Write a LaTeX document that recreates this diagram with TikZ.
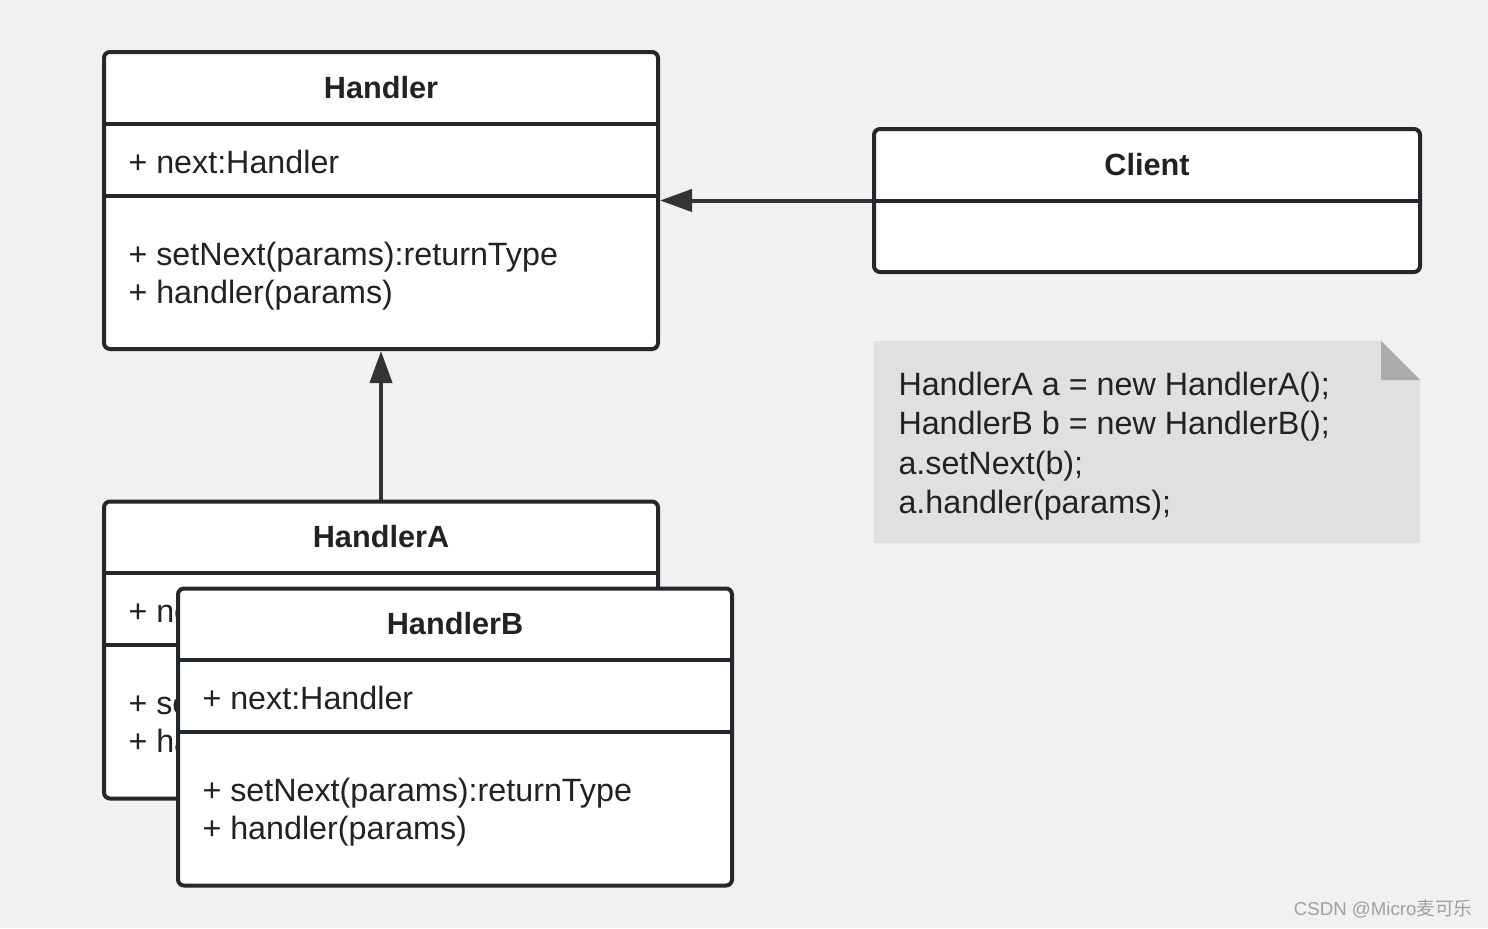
\documentclass[tikz,border=0pt]{standalone}
\usepackage{fontspec}
\setmainfont{Liberation Sans}
\newfontfamily\cjkfont{Noto Sans CJK SC}
\usetikzlibrary{arrows.meta}

\definecolor{bggray}{RGB}{241,241,241}
\definecolor{boxline}{RGB}{35,39,46}
\definecolor{textdark}{RGB}{34,34,34}
\definecolor{arrowgray}{RGB}{51,51,51}
\definecolor{notefill}{RGB}{224,224,224}
\definecolor{foldfill}{RGB}{170,170,170}
\definecolor{markgray}{RGB}{160,160,160}

\tikzset{every picture/.style={line width=0.75pt}}
\tikzset{
  classbox/.style={draw=boxline, fill=white, line width=3pt, rounded corners=4.5pt,
    inner sep=0pt, minimum width=415.5pt, minimum height=222.75pt},
  divider/.style={draw=boxline, line width=3pt},
  classtext/.style={text=textdark, inner sep=0pt, font=\fontsize{24.2}{28.5}\selectfont},
  classtitle/.style={text=textdark, inner sep=0pt, font=\fontsize{23}{28.5}\selectfont\bfseries},
  inherit/.style={draw=arrowgray, line width=3pt, -{Triangle[length=24pt,width=16.5pt]}}
}

\begin{document}
\begin{tikzpicture}[x=0.75pt,y=0.75pt,yscale=-1,xscale=1]
%set diagram to the size of the reference
\fill[bggray] (0,0) rectangle (1488,928);
\useasboundingbox (0,0) rectangle (1488,928);

%Shape: Class Handler
\node (handler) [classbox] at (381,200.5) {};
\draw [divider] (handler.west |- 0,124) -- (handler.east |- 0,124);
\draw [divider] (handler.west |- 0,196) -- (handler.east |- 0,196);
% Text Node
\node (handlerName) [classtitle] at (381,88) {Handler};
% Text Node
\node (handlerAttr) [classtext, anchor=west] at (128,162) {+ next:Handler};
% Text Node
\node (handlerOps) [classtext, anchor=west, align=left] at (128,276) {+ setNext(params):returnType\\+ handler(params)};

%Shape: Class Client
\node (client) [classbox, minimum width=409.5pt, minimum height=107.25pt] at (1147,200.5) {};
\draw [divider] (client.west) -- (client.east);
% Text Node
\node (clientName) [classtitle] at (1147,165) {Client};

%Shape: Class HandlerA
\node (handlerA) [classbox] at (381,650) {};
\draw [divider] (handlerA.west |- 0,573) -- (handlerA.east |- 0,573);
\draw [divider] (handlerA.west |- 0,645) -- (handlerA.east |- 0,645);
% Text Node
\node (handlerAName) [classtitle] at (381,537) {HandlerA};
% only the left part shows beside HandlerB
\begin{scope}
\clip (110,580) rectangle (176,790);
% Text Node
\node (handlerAAttr) [classtext, anchor=west] at (128,611) {+ next:Handler};
% Text Node
\node (handlerAOps) [classtext, anchor=west, align=left] at (128,725) {+ setNext(params):returnType\\+ handler(params)};
\end{scope}

%Shape: Class HandlerB
\node (handlerB) [classbox] at (455,737) {};
\draw [divider] (handlerB.west |- 0,660) -- (handlerB.east |- 0,660);
\draw [divider] (handlerB.west |- 0,732) -- (handlerB.east |- 0,732);
% Text Node
\node (handlerBName) [classtitle] at (455,624) {HandlerB};
% Text Node
\node (handlerBAttr) [classtext, anchor=west] at (202,698) {+ next:Handler};
% Text Node
\node (handlerBOps) [classtext, anchor=west, align=left] at (202,812) {+ setNext(params):returnType\\+ handler(params)};

%Straight Lines
\draw [inherit] (client.west) -- (handler.east);
%Straight Lines
\draw [inherit] (handlerA.north) -- (handler.south);

%Shape: Note
\fill [notefill] (874,341) -- (1381,341) -- (1420,380) -- (1420,543) -- (874,543) -- cycle;
\fill [foldfill] (1381,341) -- (1420,380) -- (1381,380) -- cycle;
% Text Node
\node (noteText) [classtext, anchor=west, align=left, font=\fontsize{24.2}{29.5}\selectfont] at (898,446)
  {HandlerA a = new HandlerA();\\HandlerB b = new HandlerB();\\a.setNext(b);\\a.handler(params);};

% Text Node
\node (watermark) [anchor=east, inner sep=0pt, text=markgray, font=\fontsize{14}{16}\selectfont] at (1473,909) {CSDN @Micro{\cjkfont 麦可乐}};
\end{tikzpicture}
\end{document}
